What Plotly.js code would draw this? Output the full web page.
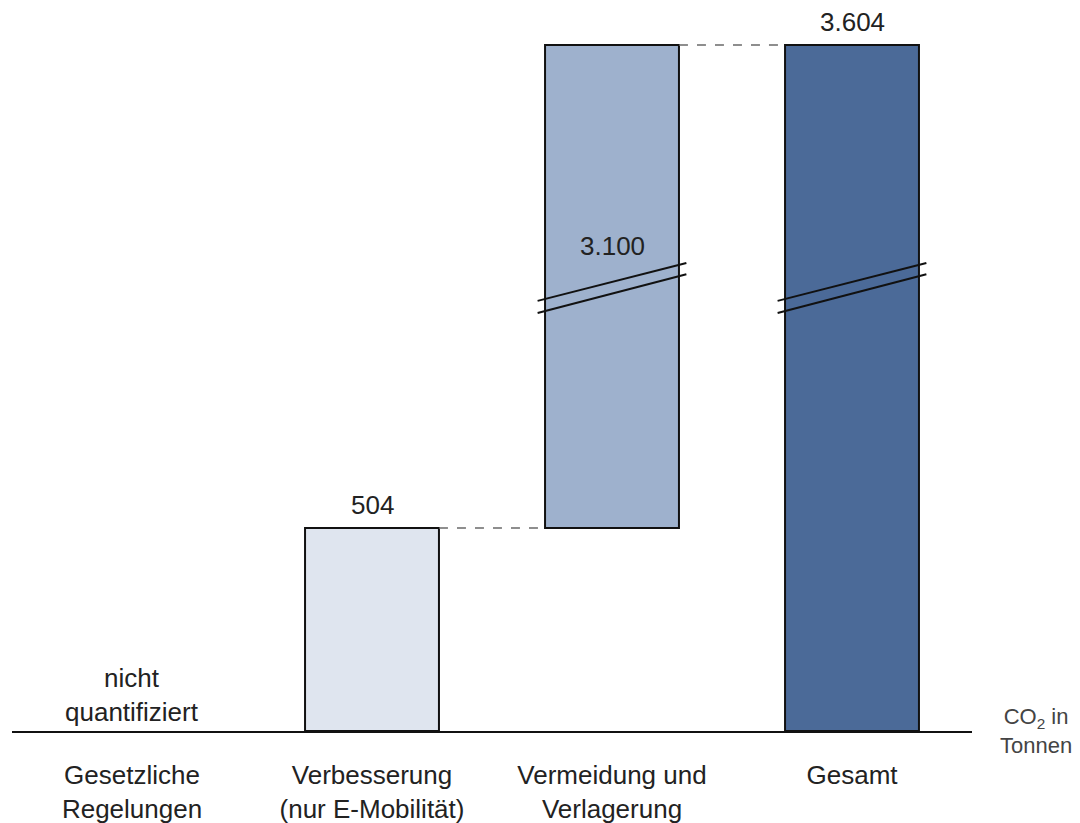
<!DOCTYPE html>
<html>
<head>
<meta charset="utf-8">
<script src="https://cdn.plot.ly/plotly-3.0.1.min.js"></script>
<style>html,body{margin:0;padding:0;background:#fff;}#chart{width:1080px;height:823px;}</style>
</head>
<body>
<div id="chart"></div>
<script>
// ---- data ----
const categories = ["Gesetzliche<br>Regelungen", "Verbesserung<br>(nur E-Mobilität)", "Vermeidung und<br>Verlagerung", "Gesamt"];
const stepValues = [null, 504, 3100, null];   // change per step (t CO2)
const totalValue = 3604;                       // Gesamt
const valueLabels = ["", "504", "3.100", "3.604"];
const noteText = "nicht<br>quantifiziert";
const unitText = "CO<sub>2</sub> in<br>Tonnen";
const barColors = ["#ffffff", "#dfe5ef", "#9eb1cd", "#4b6a98"];

// ---- broken axis mapping (values above BREAK are compressed) ----
const BREAK = 1000, COMPRESS = 0.27;
function disp(v) { return v <= BREAK ? v : BREAK + (v - BREAK) * COMPRESS; }

// build waterfall bases / tops
const bases = [], tops = [];
let run = 0;
for (let i = 0; i < categories.length; i++) {
  if (i === categories.length - 1) { bases.push(0); tops.push(totalValue); }
  else if (stepValues[i] == null) { bases.push(0); tops.push(0); }
  else { bases.push(run); run += stepValues[i]; tops.push(run); }
}
const xIdx = categories.map((c, i) => i);
const dBase = bases.map(disp);
const dHeight = tops.map((t, i) => disp(t) - disp(bases[i]));

const BW = 0.558;
const trace = {
  type: "bar",
  x: xIdx.slice(1),
  y: dHeight.slice(1),
  base: dBase.slice(1),
  width: BW,
  marker: { color: barColors.slice(1), line: { color: "#111", width: 2 } },
  hoverinfo: "skip"
};

const shapes = [];
// connectors
for (let i = 1; i < categories.length - 1; i++) {
  const level = disp(tops[i]);
  shapes.push({ type: "line", xref: "x", yref: "y", x0: i + BW / 2, x1: i + 1 - BW / 2, y0: level, y1: level,
    line: { color: "#6a6a6a", width: 1.5, dash: "dash" } });
}
// break marks on bars that cross the break
for (let i = 0; i < categories.length; i++) {
  if (tops[i] > BREAK && bases[i] < BREAK) {
    shapes.push({ type: "line", xref: "x", yref: "y", x0: i - 0.31, x1: i + 0.31, y0: 1038, y1: 1134, line: { color: "#111", width: 2 } });
    shapes.push({ type: "line", xref: "x", yref: "y", x0: i - 0.31, x1: i + 0.31, y0: 1068, y1: 1162, line: { color: "#111", width: 2 } });
  }
}

const font = { family: "Liberation Sans, Arial, sans-serif", size: 26, color: "#222" };
const annotations = [];
// value labels
annotations.push({ x: 1, y: disp(tops[1]), text: valueLabels[1], showarrow: false, yanchor: "middle", yshift: 23, font: font });
annotations.push({ x: 3, y: disp(tops[3]), text: valueLabels[3], showarrow: false, yanchor: "middle", yshift: 23, font: font });
annotations.push({ x: 2, y: 1204, text: valueLabels[2], showarrow: false, yanchor: "middle", font: font });
// note for unquantified
annotations.push({ x: 0, y: 0, text: noteText, showarrow: false, yanchor: "bottom", yshift: 2, font: font });
// unit label
annotations.push({ xref: "paper", x: 1.067, y: 0, text: unitText, showarrow: false, yanchor: "middle", xanchor: "center",
  font: { family: font.family, size: 22, color: "#444" } });

const layout = {
  width: 1080, height: 823,
  margin: { l: 12, r: 108, t: 0, b: 92 },
  paper_bgcolor: "#fff", plot_bgcolor: "#fff",
  showlegend: false,
  xaxis: {
    range: [-0.5, 3.5], tickvals: xIdx, ticktext: categories, ticks: "",
    ticklabelstandoff: 20,
    showline: true, linecolor: "#111", linewidth: 2, showgrid: false, zeroline: false,
    tickfont: font, fixedrange: true
  },
  yaxis: { range: [0, 1815], visible: false, showgrid: false, zeroline: false, fixedrange: true },
  shapes: shapes,
  annotations: annotations
};

Plotly.newPlot("chart", [trace], layout, { staticPlot: true, displayModeBar: false });
</script>
</body>
</html>
